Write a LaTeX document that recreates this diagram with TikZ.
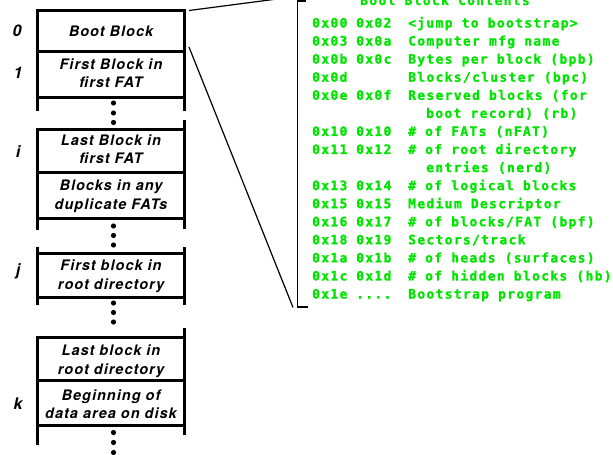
\documentclass[tikz,border=0pt]{standalone}
\usepackage{fontspec}
\setmainfont{TeX Gyre Heros}
\newfontfamily\boxfont{TeX Gyre Heros}[LetterSpace=7]
\newfontfamily\greenfont{DejaVu Sans Mono}[LetterSpace=10, BoldFeatures={FakeBold=1.2}]
\definecolor{hexgreen}{RGB}{0,228,0}
\tikzset{
  col/.style={line width=3pt},
  sep/.style={line width=3pt},
  thin/.style={line width=1.2pt},
  blocktext/.style={font=\boxfont\fontsize{14.5}{18.5}\selectfont\bfseries\itshape, align=center, inner sep=0pt},
  idx/.style={font=\fontsize{16}{18}\selectfont\bfseries\itshape, inner sep=0pt},
  hex/.style={font=\greenfont\fontsize{13}{15}\selectfont\bfseries, text=hexgreen, anchor=base west, inner sep=0pt},
  dotc/.style={fill=black},
}
\begin{document}
\begin{tikzpicture}[x=1pt,y=-1pt]
\useasboundingbox (0,0) rectangle (613,455);
% ---------- column segments ----------
% seg 1
\draw[col] (37.5,111) -- (37.5,8.5);
\draw[col] (184.5,111) -- (184.5,8.5);
\draw[sep] (37.5,10) -- (184.5,10);
\draw[sep] (37.5,51.5) -- (184.5,51.5);
\draw[sep] (37.5,97) -- (184.5,97);
% seg 2
\draw[col] (37.5,128) -- (37.5,230);
\draw[col] (184.5,120) -- (184.5,229);
\draw[sep] (37.5,129.5) -- (184.5,129.5);
\draw[sep] (37.5,172) -- (184.5,172);
\draw[sep] (37.5,218) -- (184.5,218);
% seg 3
\draw[col] (37.5,247) -- (37.5,305);
\draw[col] (184.5,247) -- (184.5,305);
\draw[sep] (37.5,253.5) -- (184.5,253.5);
\draw[sep] (37.5,297) -- (184.5,297);
% seg 4
\draw[col] (37.5,336) -- (37.5,445);
\draw[col] (184.5,328) -- (184.5,435);
\draw[sep] (37.5,337.5) -- (184.5,337.5);
\draw[sep] (37.5,380) -- (184.5,380);
\draw[sep] (37.5,425) -- (184.5,425);
% ---------- dots ----------
\foreach \yy in {103,113,122.5, 226,235.5,245, 303,312.5,322, 432.5,442.5,452.5}
  \fill[dotc] (113.5,\yy) circle (2.6);
% ---------- block texts ----------
\node[blocktext] (b0) at (111,31) {Boot Block};
\node[blocktext] (b1) at (111,73) {First Block in\\first FAT};
\node[blocktext] (bi) at (111,149) {Last Block in\\first FAT};
\node[blocktext] (bd) at (111,196) {Blocks in any\\duplicate FATs};
\node[blocktext] (bj) at (111,276) {First block in\\root directory};
\node[blocktext] (bl) at (111,361) {Last block in\\root directory};
\node[blocktext] (bk) at (111,404) {Beginning of\\data area on disk};
% ---------- indices ----------
\node[idx] (i0) at (17,31) {0};
\node[idx] (i1) at (18,73) {1};
\node[idx] (ii) at (18,152) {i};
\node[idx] (ij) at (18,271) {j};
\node[idx] (ik) at (18,404) {k};
% ---------- bracket ----------
\coordinate (bt) at (297.5,1);
\coordinate (bb) at (297.5,307);
\coordinate (btr) at (306,1);
\coordinate (bbr) at (308,307);
\draw[thin] (btr) -- (bt) -- (bb) -- (bbr);
% ---------- connectors ----------
\coordinate (c0) at (189,10.5);
\coordinate (c1) at (189,47);
\coordinate (e0) at (297,-3.6);
\coordinate (e1) at (293,307.5);
\draw[thin] (c0) -- (e0);
\draw[thin] (c1) -- (e1);
% ---------- title ----------
\node[font=\greenfont\fontsize{13}{15}\selectfont\bfseries, text=hexgreen, anchor=base, inner sep=0pt] (title) at (445,5) {Boot Block Contents};
% ---------- table ----------
\foreach \r/\a/\b/\c in {
  0/0x00/0x02/{<jump to bootstrap>},
  1/0x03/0x0a/{Computer mfg name},
  2/0x0b/0x0c/{Bytes per block (bpb)},
  3/0x0d//{Blocks/cluster (bpc)},
  4/0x0e/0x0f/{Reserved blocks (for},
  6/0x10/0x10/{\# of FATs (nFAT)},
  7/0x11/0x12/{\# of root directory},
  9/0x13/0x14/{\# of logical blocks},
  10/0x15/0x15/{Medium Descriptor},
  11/0x16/0x17/{\# of blocks/FAT (bpf)},
  12/0x18/0x19/{Sectors/track},
  13/0x1a/0x1b/{\# of heads (surfaces)},
  14/0x1c/0x1d/{\# of hidden blocks (hb)}} {
  \node[hex] (ha\r) at (312,27.5+18.07*\r) {\a};
  \node[hex] (hb\r) at (356,27.5+18.07*\r) {\b};
  \node[hex] (hc\r) at (408,27.5+18.07*\r) {\c};
}
\node[hex] (ha15) at (312,27.5+18.07*15) {0x1e};
\node[hex] (hb15) at (356,27.5+18.07*15) {....};
\node[hex] (hc15) at (408,27.5+18.07*15) {Bootstrap program};
\node[hex] (hc5) at (426,27.5+18.07*5) {boot record) (rb)};
\node[hex] (hc8) at (426,27.5+18.07*8) {entries (nerd)};
\end{tikzpicture}
\end{document}
